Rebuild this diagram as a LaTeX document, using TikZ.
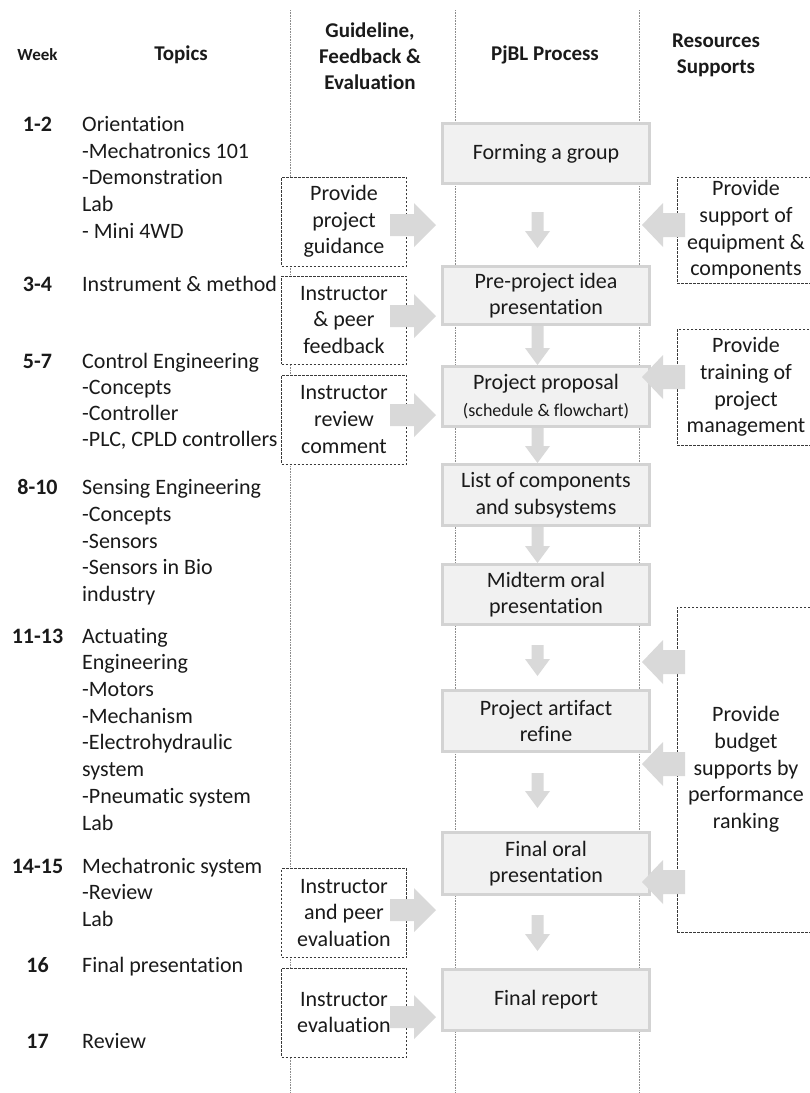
\documentclass[tikz,border=0pt]{standalone}
\usepackage{fontspec}
\setmainfont{Carlito}[Ligatures={NoCommon,NoContextual}]
\usetikzlibrary{calc}
\newcommand\tisep{t\kern0pt i}
\definecolor{tcol}{HTML}{1A1A1A}
\definecolor{boxfill}{HTML}{F1F1F1}
\definecolor{boxline}{HTML}{D3D3D3}
\definecolor{arrowcol}{HTML}{D9D9D9}
\definecolor{vlinecol}{HTML}{8C8C8C}
\definecolor{dashcol}{HTML}{3A3A3A}
\newcommand\harr[6]{\fill[arrowcol] (#1,{#4-#5}) -- (#2,{#4-#5}) -- (#2,{#4-#6}) -- (#3,#4) -- (#2,{#4+#6}) -- (#2,{#4+#5}) -- (#1,{#4+#5}) -- cycle;}
\newcommand\varr[3]{\fill[arrowcol] ({#1-6},#2) -- ({#1+6},#2) -- ({#1+6},{#3-17}) -- ({#1+12.5},{#3-17}) -- (#1,#3) -- ({#1-12.5},{#3-17}) -- ({#1-6},{#3-17}) -- cycle;}
\newcommand\vconn[2]{\fill[arrowcol] let \p1=(#1.south), \p2=(#2.north) in (\x1-14.5pt,\y1) -- (\x1-2.5pt,\y1) -- (\x1-2.5pt,\y2+17pt) -- (\x1+4pt,\y2+17pt) -- (\x1-8.5pt,\y2) -- (\x1-21pt,\y2+17pt) -- (\x1-14.5pt,\y2+17pt) -- cycle;}
\begin{document}
\begin{tikzpicture}[x=1pt,y=-1pt,
  txt/.style={font=\fontsize{22}{26.7}\selectfont, text=tcol, inner sep=0pt},
  tline/.style={txt, anchor=west, text height=16pt, text depth=3pt},
  wk/.style={txt, font=\fontsize{22}{26.7}\selectfont\bfseries, text height=16pt, text depth=3pt},
  hdr/.style={txt, font=\fontsize{21}{26}\selectfont\bfseries, align=center},
  pbox/.style={txt, draw=boxline, line width=3pt, fill=boxfill, minimum width=207pt, align=center},
  dbox/.style={txt, draw=dashcol, line width=0.9pt, dash pattern=on 2.5pt off 1.5pt, fill=white, align=center},
  vline/.style={draw=vlinecol, line width=0.8pt, dash pattern=on 0.8pt off 0.8pt}]
\useasboundingbox (0,0) rectangle (810,1093);
\clip (0,0) rectangle (810,1093);
\fill[white] (0,0) rectangle (810,1093);
% column separators
\draw[vline] (290,10) -- (290,1093);
\draw[vline] (455,10) -- (455,1093);
\draw[vline] (639.5,10) -- (639.5,1093);
% headers
\node[hdr, font=\fontsize{17}{20}\selectfont\bfseries] (hweek) at (37.5,55) {Week};
\node[hdr] (htop) at (181,55) {Topics};
\node[hdr] (hguide) at (370,56) {Guideline,\\Feedback \&\\Evalua\tisep on};
\node[hdr] (hproc) at (545,55) {PjBL Process};
\node[hdr] (hres) at (716,55) {Resources\\Supports};
% week numbers
\foreach \yy/\tx [count=\i] in {125/1-2, 285/3-4, 362/5-7, 488/8-10, 637/11-13, 867/14-15, 966/16, 1042/17}
  \node[wk, name=wk\i] at (37.5,\yy) {\tx};
% topics
\foreach \yy/\tx [count=\i] in {125/Orienta\tisep on, 152/-Mechatronics 101, 178/-Demonstra\tisep on, 205/Lab, 232/- Mini 4WD,
  285/Instrument \& method, 362/Control Engineering, 388/-Concepts, 414/-Controller, 440/{-PLC, CPLD controllers},
  488/Sensing Engineering, 515/-Concepts, 542/-Sensors, 568/-Sensors in Bio, 595/industry,
  637/Actua\tisep ng, 663/Engineering, 690/-Motors, 717/-Mechanism, 743/-Electrohydraulic, 770/system,
  797/-Pneuma\tisep c system, 824/Lab, 867/Mechatronic system, 893/-Review, 920/Lab, 966/Final presenta\tisep on, 1042/Review}
  \node[tline, name=tp\i] at (82,\yy) {\tx};
% process boxes
\node[pbox, minimum height=60pt] (p1) at (546,153.5) {Forming a group};
\node[pbox, minimum height=58pt] (p2) at (546,295.5) {Pre-project idea\\presenta\tisep on};
\node[pbox, minimum height=60pt] (p3) at (546,396.5) {Project proposal\\{\fontsize{18}{22}\selectfont (schedule \& flowchart)}};
\node[pbox, minimum height=61pt] (p4) at (546,495) {List of components\\and subsystems};
\node[pbox, minimum height=60pt] (p5) at (546,594.5) {Midterm oral\\presenta\tisep on};
\node[pbox, minimum height=61pt] (p6) at (546,721) {Project ar\tisep fact\\refine};
\node[pbox, minimum height=62pt] (p7) at (546,863.5) {Final oral\\presenta\tisep on};
\node[pbox, minimum height=61pt] (p8) at (546,1000) {Final report};
% guideline boxes
\node[dbox, minimum width=125pt, minimum height=89pt] (l1) at (344,221.5) {Provide\\project\\guidance};
\node[dbox, minimum width=125pt, minimum height=88pt] (l2) at (344,320) {Instructor\\\& peer\\feedback};
\node[dbox, minimum width=125pt, minimum height=89pt] (l3) at (344,419.5) {Instructor\\review\\comment};
\node[dbox, minimum width=125pt, minimum height=89pt] (l4) at (344,913) {Instructor\\and peer\\evalua\tisep on};
\node[dbox, minimum width=125pt, minimum height=89pt] (l5) at (344,1012.5) {Instructor\\evalua\tisep on};
% resource boxes
\node[dbox, minimum width=138pt, minimum height=106pt] (r1) at (746,230) {Provide\\support of\\equipment \&\\components};
\node[dbox, minimum width=138pt, minimum height=116pt] (r2) at (746,387) {Provide\\training of\\project\\management};
\node[dbox, minimum width=138pt, minimum height=325pt] (r3) at (746,769.5) {Provide\\budget\\supports by\\performance\\ranking};
% down arrows
\varr{537.5}{212}{248}
\vconn{p2}{p3}
\vconn{p3}{p4}
\vconn{p4}{p5}
\varr{537.5}{645}{676}
\varr{537.5}{773}{808}
\varr{537.5}{915}{951}
% guideline arrows
\harr{390}{414}{436}{225}{11}{22}
\harr{390}{414}{436}{316}{11}{22}
\harr{390}{414}{436}{415}{11}{22}
\harr{390}{414}{436}{910}{11}{22}
\harr{390}{414}{436}{1017}{11}{22}
% resource arrows
\harr{685}{663}{642}{225}{12}{22}
\harr{685}{663}{642}{377}{12}{22}
\harr{685}{663}{642}{662}{12}{22}
\harr{685}{663}{642}{764}{12}{22}
\harr{685}{663}{642}{882}{12}{22}
\end{tikzpicture}
\end{document}
